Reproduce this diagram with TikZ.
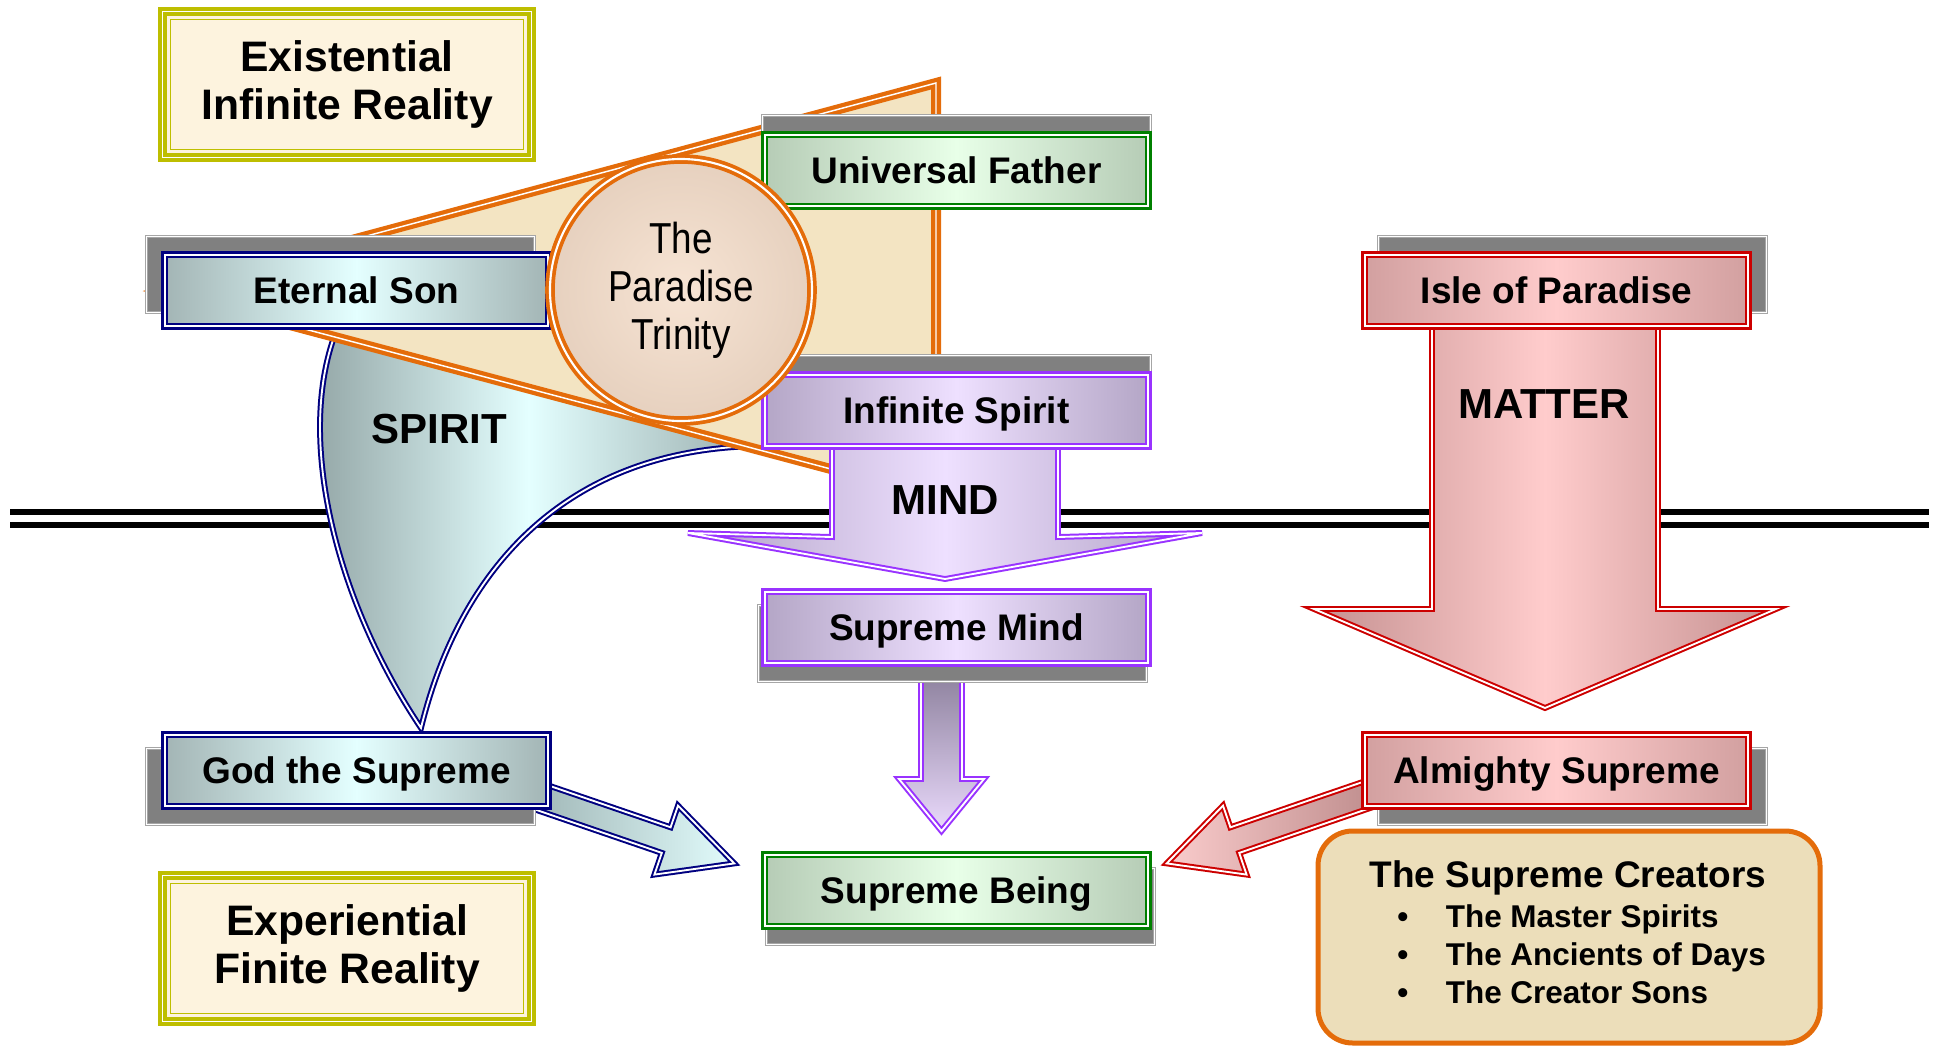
\documentclass[tikz,border=0pt]{standalone}
\usepackage{fontspec}
\setmainfont{Liberation Sans}
\newfontfamily\trinityfont[FakeStretch=0.85]{Liberation Sans}

\definecolor{sonnavy}{RGB}{0,0,128}
\definecolor{sonedge}{RGB}{163,181,181}
\definecolor{sonmid}{RGB}{228,255,255}
\definecolor{fathergreen}{RGB}{0,128,0}
\definecolor{fatheredge}{RGB}{182,204,182}
\definecolor{fathermid}{RGB}{232,255,232}
\definecolor{mindpurple}{RGB}{153,51,255}
\definecolor{mindedge}{RGB}{180,166,198}
\definecolor{mindmid}{RGB}{238,224,255}
\definecolor{islered}{RGB}{204,0,0}
\definecolor{isleedge}{RGB}{210,160,160}
\definecolor{islemid}{RGB}{255,204,204}
\definecolor{trinorange}{RGB}{228,108,10}
\definecolor{trinlight}{RGB}{247,228,212}
\definecolor{trindark}{RGB}{214,190,170}
\definecolor{realmolive}{RGB}{190,190,0}
\definecolor{realmcream}{RGB}{253,243,222}
\definecolor{parchment}{RGB}{243,228,194}
\definecolor{creatortan}{RGB}{236,222,186}
\definecolor{shadowgray}{RGB}{128,128,128}
\definecolor{shadowedge}{RGB}{166,166,166}

\pgfdeclareradialshading{trinityglow}{\pgfpoint{0bp}{0bp}}{color(0bp)=(trinlight); color(22bp)=(trinlight!55!trindark); color(50bp)=(trindark)}

\begin{document}
\begin{tikzpicture}[x=0.75pt,y=0.75pt,yscale=-1,xscale=1,
  namebox/.style={inner sep=0pt,minimum width=287.6pt,minimum height=53.6pt,text height=19.9pt,text depth=0pt,line width=1.85pt,double=white,double distance=1.85pt,font=\bfseries\fontsize{27.75}{30}\selectfont},
  sonbox/.style={namebox,draw=sonnavy,left color=sonedge,right color=sonedge,middle color=sonmid},
  fatherbox/.style={namebox,draw=fathergreen,left color=fatheredge,right color=fatheredge,middle color=fathermid},
  mindbox/.style={namebox,draw=mindpurple,left color=mindedge,right color=mindedge,middle color=mindmid},
  islebox/.style={namebox,draw=islered,left color=isleedge,right color=isleedge,middle color=islemid},
  shadowbox/.style={fill=shadowgray,draw=shadowedge,line width=0.75pt,double=white,double distance=0.75pt},
  realmbox/.style={draw=realmolive,fill=realmcream,line width=2.7pt,double=white,double distance=1.3pt,minimum width=276.8pt,minimum height=109.6pt,inner sep=0pt,align=center,font=\bfseries\fontsize{32}{36.5}\selectfont},
  realminner/.style={draw=realmolive,line width=1pt},
  flowline/.style={line width=1.5pt,double=white,double distance=1.4pt},
  flowlabel/.style={font=\bfseries\fontsize{31.5}{34}\selectfont},
  realmline/.style={line width=4.5pt},
]
\useasboundingbox (0,0) rectangle (1939,1047);

%Straight Lines: border between the realms
\draw [realmline] (10,511.7) -- (1929,511.7) ;
\draw [realmline] (10,525) -- (1929,525) ;

%Shape: SPIRIT curved arrow
\draw [flowline,draw=sonnavy,left color={rgb,255:red,140;green,158;blue,158},right color={rgb,255:red,150;green,170;blue,170},middle color=sonmid] (765,446) .. controls (575,446) and (462,560) .. (421,728) .. controls (335,600) and (292,430) .. (340,322) -- cycle ;

%Shape: Trinity cone
\draw [draw=trinorange,fill=parchment,line width=3.2pt,double=white,double distance=1.1pt] (162,291) -- (936,83) -- (936,497) -- cycle ;

%Shape: God the Supreme to Supreme Being
\draw [flowline,draw=sonnavy,left color={rgb,255:red,150;green,172;blue,172},right color={rgb,255:red,226;green,252;blue,252}] (509.8,772.2) -- (670.6,827.3) -- (678,805.6) -- (734.3,863.4) -- (654.4,874.6) -- (661.8,852.9) -- (501,797.8) -- cycle ;
%Shape: Almighty Supreme to Supreme Being
\draw [flowline,draw=islered,left color={rgb,255:red,250;green,204;blue,204},right color={rgb,255:red,184;green,134;blue,134}] (1391.2,772.2) -- (1230.4,827.3) -- (1223,805.6) -- (1166.7,863.4) -- (1246.6,874.6) -- (1239.2,852.9) -- (1400,797.8) -- cycle ;

%Shape: MATTER arrow
\draw [flowline,draw=islered,left color={rgb,255:red,196;green,144;blue,144},right color={rgb,255:red,196;green,144;blue,144},middle color=islemid] (1432,320) -- (1432,609) -- (1314,609) -- (1545,708) -- (1776,609) -- (1658,609) -- (1658,320) -- cycle ;
%Shape: MIND arrow
\draw [flowline,draw=mindpurple,left color={rgb,255:red,176;green,160;blue,196},right color={rgb,255:red,176;green,160;blue,196},middle color=mindmid] (832,440) -- (832,537) -- (688,533) -- (945,579) -- (1202,533) -- (1058,537) -- (1058,440) -- cycle ;
%Shape: Supreme Mind to Supreme Being
\draw [flowline,draw=mindpurple,top color={rgb,255:red,140;green,128;blue,156},bottom color={rgb,255:red,234;green,218;blue,252}] (921,670) -- (921,779) -- (899,779) -- (941.5,831) -- (984,779) -- (962,779) -- (962,670) -- cycle ;

%Shape: Shadows
\draw [shadowbox] (762.5,115.5) rectangle (1150.5,191.5) ;
\draw [shadowbox] (762.5,355.5) rectangle (1150.5,431.5) ;
\draw [shadowbox] (146.5,236.5) rectangle (534.5,312.5) ;
\draw [shadowbox] (1378.5,236.5) rectangle (1766.5,312.5) ;
\draw [shadowbox] (146.5,748.5) rectangle (534.5,824.5) ;
\draw [shadowbox] (1378.5,748.5) rectangle (1766.5,824.5) ;
\draw [shadowbox] (758.5,605.5) rectangle (1146.5,681.5) ;
\draw [shadowbox] (766.5,868.5) rectangle (1154.5,944.5) ;

% Text Node
\node [fatherbox] (father) at (956.5,170.5) {Universal Father};
% Text Node
\node [mindbox] (infspirit) at (956.5,410.5) {Infinite Spirit};
% Text Node
\node [sonbox] (son) at (356.5,290.5) {Eternal Son};
% Text Node
\node [islebox] (isle) at (1556.5,290.5) {Isle of Paradise};
% Text Node
\node [sonbox] (godsupreme) at (356.5,770.5) {God the Supreme};
% Text Node
\node [islebox] (almighty) at (1556.5,770.5) {Almighty Supreme};
% Text Node
\node [mindbox] (suprmind) at (956.5,627.5) {Supreme Mind};
% Text Node
\node [fatherbox] (suprbeing) at (956.5,890.5) {Supreme Being};

%Shape: Paradise Trinity
\node [circle,minimum size=196.5pt,inner sep=0pt,shading=trinityglow,draw=trinorange,line width=2.8pt,double=white,double distance=1.6pt,align=center,font=\trinityfont\fontsize{32.5}{36}\selectfont] (trinity) at (681,290) {The\\Paradise\\Trinity};

% Text Node
\node [flowlabel,anchor=base] (spiritlabel) at (439.5,443) {SPIRIT};
% Text Node
\node [flowlabel,anchor=base] (mindlabel) at (945,514) {MIND};
% Text Node
\node [flowlabel,anchor=base] (matterlabel) at (1544,418) {MATTER};

%Shape: Realms
\node [realmbox] (existential) at (347,84.5) {Existential\\Infinite Reality};
\draw [realminner] ([shift={(10,10)}]existential.north west) rectangle ([shift={(-10,-10)}]existential.south east) ;
\node [realmbox] (experiential) at (347,948.5) {Experiential\\Finite Reality};
\draw [realminner] ([shift={(10,10)}]experiential.north west) rectangle ([shift={(-10,-10)}]experiential.south east) ;

%Shape: Supreme Creators
\node [draw=trinorange,fill=creatortan,line width=3.75pt,rounded corners=26pt,minimum width=376.5pt,minimum height=159pt,inner sep=0pt] (creators) at (1569,937) {};
% Text Node
\node [anchor=base,font=\bfseries\fontsize{27.75}{30}\selectfont] (creatorstitle) at (1568,887) {The Supreme Creators};
% Text Node
\node [anchor=base west,inner sep=0pt,font=\bfseries\fontsize{23.6}{26}\selectfont] (masterspirits) at (1397,927) {\makebox[36.4pt][l]{\textbullet}The Master Spirits};
% Text Node
\node [anchor=base west,inner sep=0pt,font=\bfseries\fontsize{23.6}{26}\selectfont] (ancients) at (1397,965) {\makebox[36.4pt][l]{\textbullet}The Ancients of Days};
% Text Node
\node [anchor=base west,inner sep=0pt,font=\bfseries\fontsize{23.6}{26}\selectfont] (creatorsons) at (1397,1003) {\makebox[36.4pt][l]{\textbullet}The Creator Sons};

\end{tikzpicture}
\end{document}
